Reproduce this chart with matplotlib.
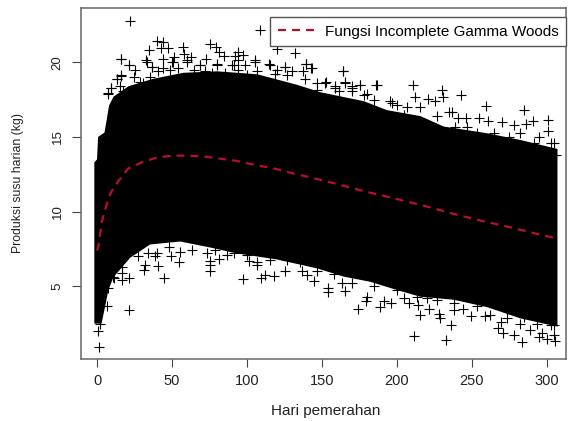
# 产奶量散点图 + Woods 曲线
import matplotlib
matplotlib.use('Agg')
import matplotlib.pyplot as plt

plt.rcParams['font.family'] = ['Liberation Sans', 'DejaVu Sans']

# 点云的上下边界
upper_x = [-1.8, 0, 0.7, 5, 6.7, 8, 11, 21, 37.6, 57.7, 80, 107, 133.4, 149, 178, 193.5, 215.8, 231.4, 260.4, 282.6, 307.3]
upper_y = [13.3, 13.5, 15, 15.3, 16.3, 17.1, 17.7, 18.4, 18.9, 19.3, 19.4, 19.2, 18.5, 18.0, 17.4, 16.8, 16.4, 15.7, 15.25, 14.8, 14.2]
lower_x = [-1.8, 3, 5.3, 7.6, 10.9, 22, 35.4, 55.5, 75.5, 93.3, 120, 146.8, 164.6, 182.4, 200.2, 215.8, 238, 260.4, 282.6, 307.3]
lower_y = [2.5, 2.5, 3.6, 4.75, 5.6, 6.9, 7.8, 8.0, 7.6, 7.2, 6.8, 6.2, 5.65, 5.3, 4.75, 4.3, 4.1, 3.6, 2.85, 2.3]

# 边界外可以单独看清的点
top_x = [22, 109.1, 39.9, 44.3, 42.5, 47.2, 34.5, 57.2, 75.7, 79.1, 81.5, 84.8, 94, 97.5, 92, 120.3, 132.1,
         16, 33, 43.9, 51.4, 58.1, 63, 72.4, 105.1, 139.6, 143, 115.1, 21.6, 36.5, 49.9, 59.9, 80, 91.1, 94,
         68.8, 125.6, 15.8, 13.6, 9.1, 7.6, 163.9, 186.9, 210.9, 230.5, 212.2, 231, 220.7, 225.8, 243.2,
         259.9, 285.3, 254.8, 260.8, 270.4, 278.6, 286, 290.9, 301.1, 301.1, 246.5, 241, 237, 195.8, 200.2,
         294.9, 304.9]
top_y = [22.75, 22.15, 21.4, 21.35, 20.95, 20.95, 20.8, 21.05, 21.2, 21.05, 20.7, 20.4, 20.7, 20.5, 20.4, 20.9, 20.6,
         20.2, 20.15, 20.25, 20.35, 20.55, 20.35, 20.25, 20.15, 19.9, 19.6, 19.9, 19.8, 19.7, 20, 20.15, 19.9, 19.8, 20.15,
         19.8, 19.7, 19.1, 18.9, 18.3, 17.9, 19.45, 18.45, 18.45, 18.15, 17.7, 17.7, 17.55, 17.4, 17.8,
         17.05, 16.8, 16.3, 16.1, 16, 15.8, 15.9, 16.05, 16.15, 15.4, 16.3, 16.25, 16.7, 17.4, 17.15,
         15, 14.6]
bottom_x = [1.3, 0.9, 2, 6.5, 21.4, 44.8, 21.4, 16.9, 11.4, 31.4, 75.1, 75.1, 75.1, 54.8, 41, 32, 97.5, 109.6,
            111.8, 117.8, 125.4, 136.7, 144.8, 140, 146.8, 49.4, 81.5, 101.1, 106.7, 115.6, 38.7, 27.6, 16.5, 7.6,
            153.9, 153.9, 165.7, 174.2, 179.5, 180.2, 188.6, 191.3, 196.4, 211.4, 233, 236.3, 215.4, 221.4,
            228.1, 228.7, 238.5, 244.1, 249.9, 259.2, 267.5, 270.8, 278.6, 283.3, 288.9, 294.9, 297.1, 300.4,
            304.9, 305.6, 208, 204.7, 214, 220.3, 269.3, 282.6, 304.9]
bottom_y = [0.95, 2, 2.45, 3.65, 3.4, 5.55, 5.55, 5.45, 5.55, 6.1, 6, 6.4, 6.7, 6.6, 6.35, 6.45, 5.5, 5.55,
            5.75, 5.7, 6, 6, 5.35, 5.75, 6, 7, 6.8, 6.7, 6.45, 6.75, 7.05, 7.05, 5.9, 4.9,
            4.9, 4.6, 4.7, 3.5, 4, 4.3, 3.6, 4, 3.9, 1.7, 1.4, 2.4, 3.05, 3.5,
            3.15, 2.9, 3.4, 3.45, 3, 3, 2.2, 1.9, 1.75, 1.3, 2.05, 1.6, 1.9, 1.45,
            1.75, 1.35, 3.85, 4.2, 3.75, 4.2, 2.6, 2.5, 2.4]

# 贴着点云边缘的点，让边缘毛一点
fringe_top_x = [15.8, 21.6, 25.4, 15.8, 13.6, 9.1, 7.6, 15.4, 17.6, 25, 28.7, 33.2, 36.5, 41, 44.3, 48.8, 51, 54.3,
                59.9, 64.4, 68.8, 72.1, 80, 76.6, 90, 85.5, 94.4, 98.9, 100, 35.4, 31,
                105.5, 115.6, 120, 125.6, 130, 106.6, 118.9, 126.7, 137.4, 139.6, 143.4, 164.1, 139, 146.7, 153,
                159, 165.7, 170.1, 175.2, 186.4, 170.1, 180.2, 146.7, 161.2,
                152.3, 159, 165.7, 170.2, 175.3, 178, 184.6, 196.9, 206.9, 215.8, 204.7, 226.9, 234.7, 239.2,
                247, 253.7, 264.8, 274.8, 282.6, 291.5, 302.7, 306]
fringe_top_y = [20.2, 19.8, 19.5, 19.15, 18.9, 18.3, 17.95, 18.4, 18.05, 19.05, 18.7, 20.05, 19.7, 19.4, 19.6, 19.5, 20.05, 19.6,
                20.05, 19.5, 19.8, 19.4, 19.8, 19.3, 19.8, 19.3, 19.5, 19.8, 19.15, 19.05, 18.6,
                20.05, 19.8, 19.5, 19.7, 19.45, 19.4, 19.2, 19.15, 19.4, 19.9, 19.6, 19.45, 18.9, 18.6, 18.65,
                18.4, 18.65, 18.4, 18.5, 18.45, 18.05, 17.9, 18.15, 18.05,
                18.6, 18.3, 18.6, 18.25, 18.5, 17.8, 17.5, 17.25, 17, 17, 16.5, 16.4, 16.7, 15.7,
                15.7, 15.25, 15.25, 15, 15.25, 14.6, 14.6, 13.8]
fringe_bottom_x = [34.3, 39.9, 47.7, 55.4, 63.2, 73.3, 78.8, 86.6, 91.1, 100, 106.7, 126.7, 135.6, 16.5, 10.9,
                   157.9, 163.5, 170.2, 184.6, 200.2, 213.6, 226.9, 238, 253.7, 262.6, 273.7, 284.8, 293.8, 302.7]
fringe_bottom_y = [7.25, 7.2, 7.65, 7.3, 7.4, 7.2, 7.4, 7.1, 7.2, 7.1, 6.65, 6.75, 6.65, 6.3, 5.6,
                   5.85, 5.2, 5.2, 5, 4.75, 4.3, 4.1, 3.85, 3.65, 3.1, 2.85, 2.95, 2.5, 2.4]

# Woods 曲线
curve_x = [0, 0.9, 3.1, 7.6, 10.9, 20.9, 31, 41, 51, 61, 71, 82, 93.3, 102, 120, 131, 142.3, 160, 179, 198, 218, 238, 256, 276, 294, 307]
curve_y = [7.4, 7.65, 9.3, 10.9, 11.6, 12.9, 13.35, 13.65, 13.75, 13.75, 13.7, 13.55, 13.4, 13.2, 12.85, 12.55, 12.3, 11.85, 11.35, 10.9, 10.4, 9.85, 9.4, 8.95, 8.5, 8.2]

x_ticks = [0, 50, 100, 150, 200, 250, 300]
y_ticks = [5, 10, 15, 20]

fig = plt.figure(figsize=(5.68, 4.21), dpi=100)
ax = fig.add_axes([81 / 568, 1 - 359 / 421, (566 - 81) / 568, (359 - 8) / 421])

# 中间太密，直接涂满
ax.fill(upper_x + lower_x[::-1], upper_y + lower_y[::-1], color='black', lw=0)

marker = dict(ls='none', marker='+', color='black', ms=6.5, mew=0.8)
ax.plot(top_x, top_y, **marker)
ax.plot(bottom_x, bottom_y, **marker)
ax.plot(fringe_top_x, fringe_top_y, **marker)
ax.plot(fringe_bottom_x, fringe_bottom_y, **marker)

ax.plot(curve_x, curve_y, color='#b8102c', lw=1.6, dashes=(3.6, 2.7), label='Fungsi Incomplete Gamma Woods')

ax.set_xlim(-10.7, 313)
ax.set_ylim(0.13, 23.64)
ax.set_xticks(x_ticks)
ax.set_yticks(y_ticks)
ax.set_yticklabels([str(v) for v in y_ticks], rotation=90, va='center')
ax.tick_params(axis='x', length=5.5, width=0.8, color='#444444', labelsize=10.5, pad=5, labelcolor='#222222')
ax.tick_params(axis='y', length=6.5, width=0.8, color='#444444', labelsize=9.5, pad=6, labelcolor='#222222')
for s in ax.spines.values():
    s.set_color('#666666')
    s.set_linewidth(1.1)

fig.text(326 / 568, 1 - 411 / 421, 'Hari pemerahan', ha='center', va='center', fontsize=11, color='#222222')
fig.text(18 / 568, 1 - 183 / 421, 'Produksi susu harian (kg)', rotation=90, ha='center', va='center', fontsize=8.8, color='#222222')

leg = ax.legend(loc='upper right', bbox_to_anchor=(1, 1 - 9 / 351), borderaxespad=0, fancybox=False, framealpha=1,
                edgecolor='#555555', fontsize=11, handlelength=2.5, borderpad=0.5, handletextpad=0.55)
leg.get_frame().set_linewidth(1)

fig.savefig('out.png', dpi=100)
